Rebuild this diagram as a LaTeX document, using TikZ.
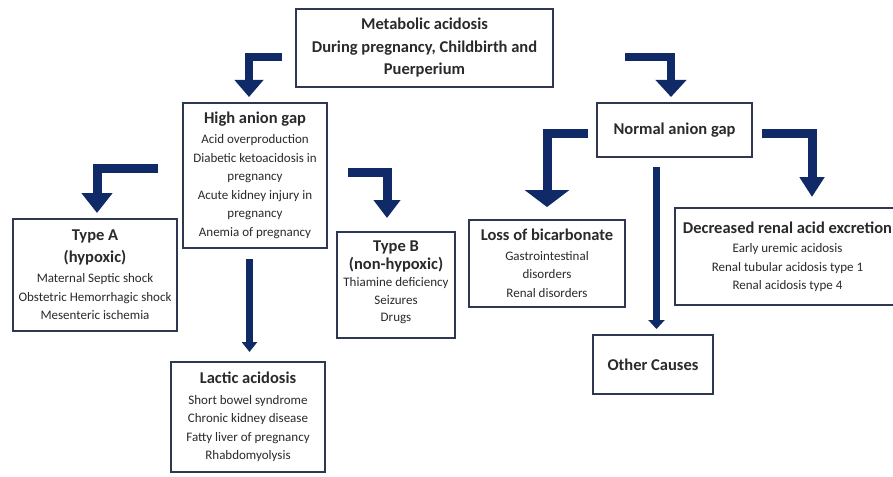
\documentclass[tikz,border=0pt]{standalone}
\usepackage{fontspec}
\setmainfont{Carlito}
\usetikzlibrary{arrows.meta}
\definecolor{navy}{HTML}{0F2A66}
\definecolor{boxc}{HTML}{2E3850}
\definecolor{txtc}{HTML}{2A2A2A}
\newcommand\ttl[1]{{\fontsize{16.5}{20}\selectfont\bfseries #1}}
\tikzset{
  box/.style={draw=boxc, line width=1.5pt, fill=white, inner sep=2pt, align=center,
    font=\fontsize{13}{18.5}\selectfont, text=txtc},
  bigarrow/.style={draw=navy, line join=miter, line cap=butt},
}
\begin{document}
\begin{tikzpicture}[x=1pt,y=-1pt]
\useasboundingbox (0,0) rectangle (893,476);
% boxes
\node[box, minimum width=257pt, minimum height=78pt, font=\fontsize{16.5}{22.5}\selectfont\bfseries]
  (top) at (424.5,48) {Metabolic acidosis\\During pregnancy, Childbirth and\\Puerperium};
\node[box, minimum width=144pt, minimum height=145pt] (hag) at (255,175.5)
  {\ttl{High anion gap}\\[1.5pt]Acid overproduction\\Diabetic ketoacidosis in\\pregnancy\\Acute kidney injury in\\pregnancy\\Anemia of pregnancy};
\node[box, minimum width=164pt, minimum height=112pt] (typeA) at (95,275)
  {\ttl{Type A}\\[3pt]\ttl{(hypoxic)}\\[2pt]Maternal Septic shock\\Obstetric Hemorrhagic shock\\Mesenteric ischemia};
\node[box, minimum width=118pt, minimum height=106pt] (typeB) at (396,285)
  {\ttl{Type B}\\[0pt]\ttl{(non-hypoxic)}\\[-1.5pt]Thiamine deficiency\\[-1pt]Seizures\\[-1pt]Drugs\rule[-8pt]{0pt}{8pt}};
\node[box, minimum width=154pt, minimum height=110pt] (lactic) at (248,417)
  {\ttl{Lactic acidosis}\\[2pt]Short bowel syndrome\\Chronic kidney disease\\Fatty liver of pregnancy\\Rhabdomyolysis};
\node[box, minimum width=155pt, minimum height=54pt] (nag) at (674.5,130)
  {\ttl{Normal anion gap}};
\node[box, minimum width=156pt, minimum height=87pt] (loss) at (547,263.5)
  {\ttl{Loss of bicarbonate}\\[1pt]Gastrointestinal\\disorders\\Renal disorders};
\node[box, minimum width=225pt, minimum height=97pt] (dec) at (787.5,256.5)
  {\ttl{Decreased renal acid excretion}\\[1pt]Early uremic acidosis\\Renal tubular acidosis type 1\\Renal acidosis type 4};
\node[box, minimum width=120pt, minimum height=59pt] (other) at (653,364.5)
  {\ttl{Other Causes}};
% arrow end points
\coordinate (a1s) at (282,57);   \coordinate (a1e) at (249,97);
\coordinate (a2s) at (625,57.5); \coordinate (a2e) at (671,97);
\coordinate (a3s) at (158,168);  \coordinate (a3e) at (97,213);
\coordinate (a4s) at (348,172);  \coordinate (a4e) at (387,218);
\coordinate (a5s) at (249.5,259); \coordinate (a5e) at (249.5,352);
\coordinate (a6s) at (588,133);  \coordinate (a6e) at (547,207);
\coordinate (a7s) at (762,133);  \coordinate (a7e) at (812,197);
\coordinate (a8s) at (656.5,167); \coordinate (a8e) at (656.5,329);
% arrows
\draw[bigarrow, line width=8pt, -{Triangle[width=28pt,length=17pt]}] (a1s) -| (a1e);
\draw[bigarrow, line width=8pt, -{Triangle[width=30pt,length=17pt]}] (a2s) -| (a2e);
\draw[bigarrow, line width=9pt, -{Triangle[width=30pt,length=20pt]}] (a3s) -| (a3e);
\draw[bigarrow, line width=9pt, -{Triangle[width=26pt,length=18pt]}] (a4s) -| (a4e);
\draw[bigarrow, line width=7pt, -{Triangle[width=15pt,length=10pt]}] (a5s) -- (a5e);
\draw[bigarrow, line width=9pt, -{Triangle[width=44pt,length=17pt]}] (a6s) -| (a6e);
\draw[bigarrow, line width=9pt, -{Triangle[width=24pt,length=20pt]}] (a7s) -| (a7e);
\draw[bigarrow, line width=7pt, -{Triangle[width=16pt,length=9pt]}] (a8s) -- (a8e);
\end{tikzpicture}
\end{document}
